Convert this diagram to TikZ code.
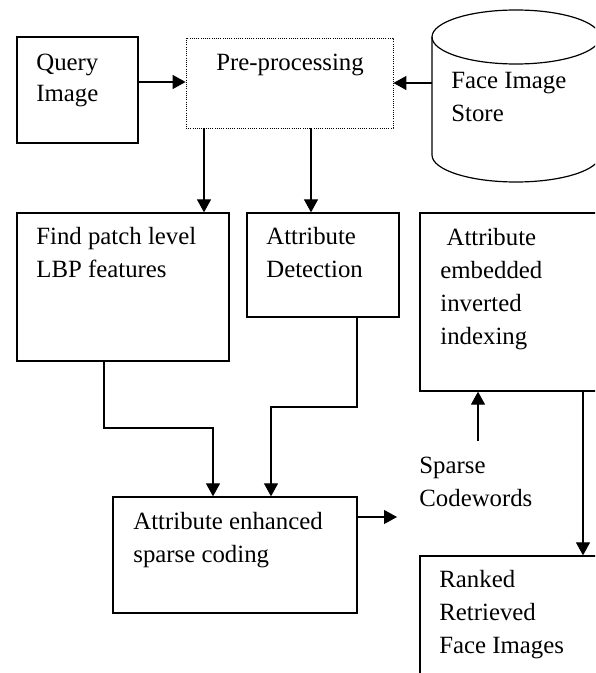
\documentclass[tikz,border=0pt]{standalone}
\usepackage{fontspec}
\setmainfont{Liberation Serif}
\usetikzlibrary{arrows.meta,fit}
\begin{document}
\begin{tikzpicture}[x=0.5pt,y=-0.5pt,
  box/.style={draw, line width=0.65pt, rectangle, inner sep=0pt},
  dotbox/.style={draw, line width=0.4pt, dash pattern=on 0.5pt off 0.6pt, rectangle, inner sep=0pt},
  txt/.style={anchor=base west, inner sep=0pt, align=left, font=\fontsize{12.4}{16.5}\selectfont},
  ln/.style={line width=0.6pt},
  arr/.style={line width=0.6pt, -{Triangle[length=6.5pt,width=7pt]}}]
\useasboundingbox (0,0) rectangle (595,673);
\clip (0,0) rectangle (595,673);
% boxes
\node[box, fit={(17,37) (138,143)}] (query) {};
\node[dotbox, fit={(186,38) (393,128)}] (pre) {};
\node[box, fit={(17,213) (229,361)}] (find) {};
\node[box, fit={(247,213) (399,317)}] (det) {};
\node[box, fit={(420,213) (640,391)}] (emb) {};
\node[box, fit={(113,497) (357,613)}] (enh) {};
\node[box, fit={(420,556) (640,720)}] (ranked) {};
% cylinder
\draw[ln] (516,37) ellipse [x radius=42pt, y radius=13.5pt];
\draw[ln] (432,37) -- (432,155) arc[start angle=180, end angle=360, x radius=42pt, y radius=13.5pt] -- (600,37);
\coordinate (storeW) at (432,83);
% texts (anchored at the baseline of the last line)
\node[txt] (tquery) at (36,102) {Query\\[-1pt]Image};
\node[txt] (tpre) at (216,71) {Pre-processing};
\node[txt] (tstore) at (451,122) {Face Image\\Store};
\node[txt] (tfind) at (36,278) {Find patch level\\LBP features};
\node[txt] (tdet) at (266,278) {Attribute\\Detection};
\node[txt] (temb) at (440,344) {\ Attribute\\embedded\\inverted\\indexing};
\node[txt] (tenh) at (133,562) {Attribute enhanced\\sparse coding};
\node[txt] (sparse) at (419,506) {Sparse\\Codewords};
\node[txt] (tranked) at (439,653) {Ranked\\Retrieved\\Face Images};
% helper coordinates
\coordinate (qa) at (0,82);
\coordinate (xa) at (204,0);
\coordinate (xb) at (311,0);
\coordinate (f1) at (104,428);
\coordinate (f2) at (213,428);
\coordinate (d1) at (357,407);
\coordinate (d2) at (271,407);
\coordinate (sc) at (397,517);
\coordinate (s1) at (478,441);
\coordinate (r1) at (583,0);
% connectors
\draw[arr] (query.east |- qa) -- (pre.west |- qa);
\draw[arr] (storeW) -- (pre.east |- storeW);
\draw[arr] (pre.south -| xa) -- (find.north -| xa);
\draw[arr] (pre.south -| xb) -- (det.north -| xb);
\draw[arr] (find.south -| f1) -- (f1) -- (f2) -- (enh.north -| f2);
\draw[arr] (det.south -| d1) -- (d1) -- (d2) -- (enh.north -| d2);
\draw[arr] (enh.east |- sc) -- (sc);
\draw[arr] (s1) -- (emb.south -| s1);
\draw[arr] (emb.south -| r1) -- (ranked.north -| r1);
\end{tikzpicture}
\end{document}
